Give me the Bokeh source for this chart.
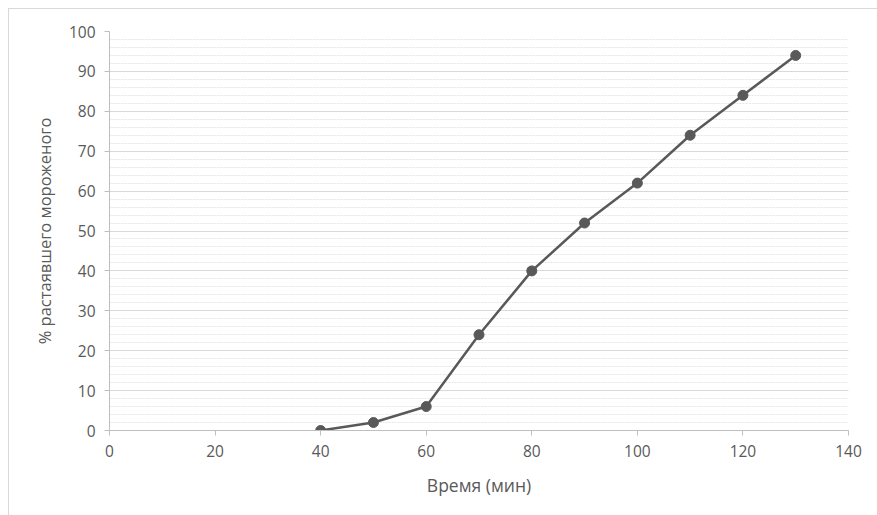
from bokeh.plotting import figure
from bokeh.models import ColumnDataSource, FixedTicker, Range1d
from bokeh.embed import file_html
from bokeh.resources import INLINE

time_min = [40, 50, 60, 70, 80, 90, 100, 110, 120, 130]
melted_pct = [0, 2, 6, 24, 40, 52, 62, 74, 84, 94]
x_ticks = [0, 20, 40, 60, 80, 100, 120, 140]
y_ticks = [0, 10, 20, 30, 40, 50, 60, 70, 80, 90, 100]
y_minor = list(range(0, 101, 2))

src = ColumnDataSource(data=dict(x=time_min, y=melted_pct))

p = figure(width=869, height=507, output_backend="svg", toolbar_location=None,
           x_range=Range1d(0, 140), y_range=Range1d(0, 100),
           min_border_left=100, min_border_right=30, min_border_top=22, min_border_bottom=86)
p.margin = (8, 0, 0, 8)
p.styles = {"border-left": "1px solid #d9d9d9", "border-top": "1px solid #d9d9d9"}
p.outline_line_color = None
p.background_fill_color = "white"
p.border_fill_color = "white"

font = "Open Sans"
text_col = "#595959"

p.xaxis.ticker = FixedTicker(ticks=x_ticks)
p.yaxis.ticker = FixedTicker(ticks=y_ticks, minor_ticks=y_minor)

for ax in (p.xaxis, p.yaxis):
    ax.axis_line_color = "#bfbfbf"
    ax.axis_line_width = 1
    ax.major_tick_line_color = "#bfbfbf"
    ax.major_tick_in = 0
    ax.major_tick_out = 5
    ax.minor_tick_line_color = None
    ax.major_label_text_font = font
    ax.major_label_text_font_size = "15.5px"
    ax.major_label_text_color = text_col
    ax.axis_label_text_font = font
    ax.axis_label_text_font_style = "normal"
    ax.axis_label_text_color = text_col

p.xaxis.axis_label = "Время (мин)"
p.yaxis.axis_label = "% растаявшего мороженого"
p.xaxis.axis_label_text_font_size = "17.5px"
p.yaxis.axis_label_text_font_size = "16.5px"
p.xaxis.major_label_standoff = 9
p.yaxis.major_label_standoff = 9
p.xaxis.axis_label_standoff = 13
p.yaxis.axis_label_standoff = 10

p.xgrid.grid_line_color = None
p.ygrid.grid_line_color = "#d9d9d9"
p.ygrid.grid_line_width = 1
p.ygrid.minor_grid_line_color = "#e6e6e6"
p.ygrid.minor_grid_line_dash = "2 1"
p.ygrid.minor_grid_line_width = 1

p.line("x", "y", source=src, line_color="#595959", line_width=2.5)
p.scatter("x", "y", source=src, size=10, fill_color="#595959", line_color="#595959")

open("out.html", "w").write(file_html(p, INLINE))
